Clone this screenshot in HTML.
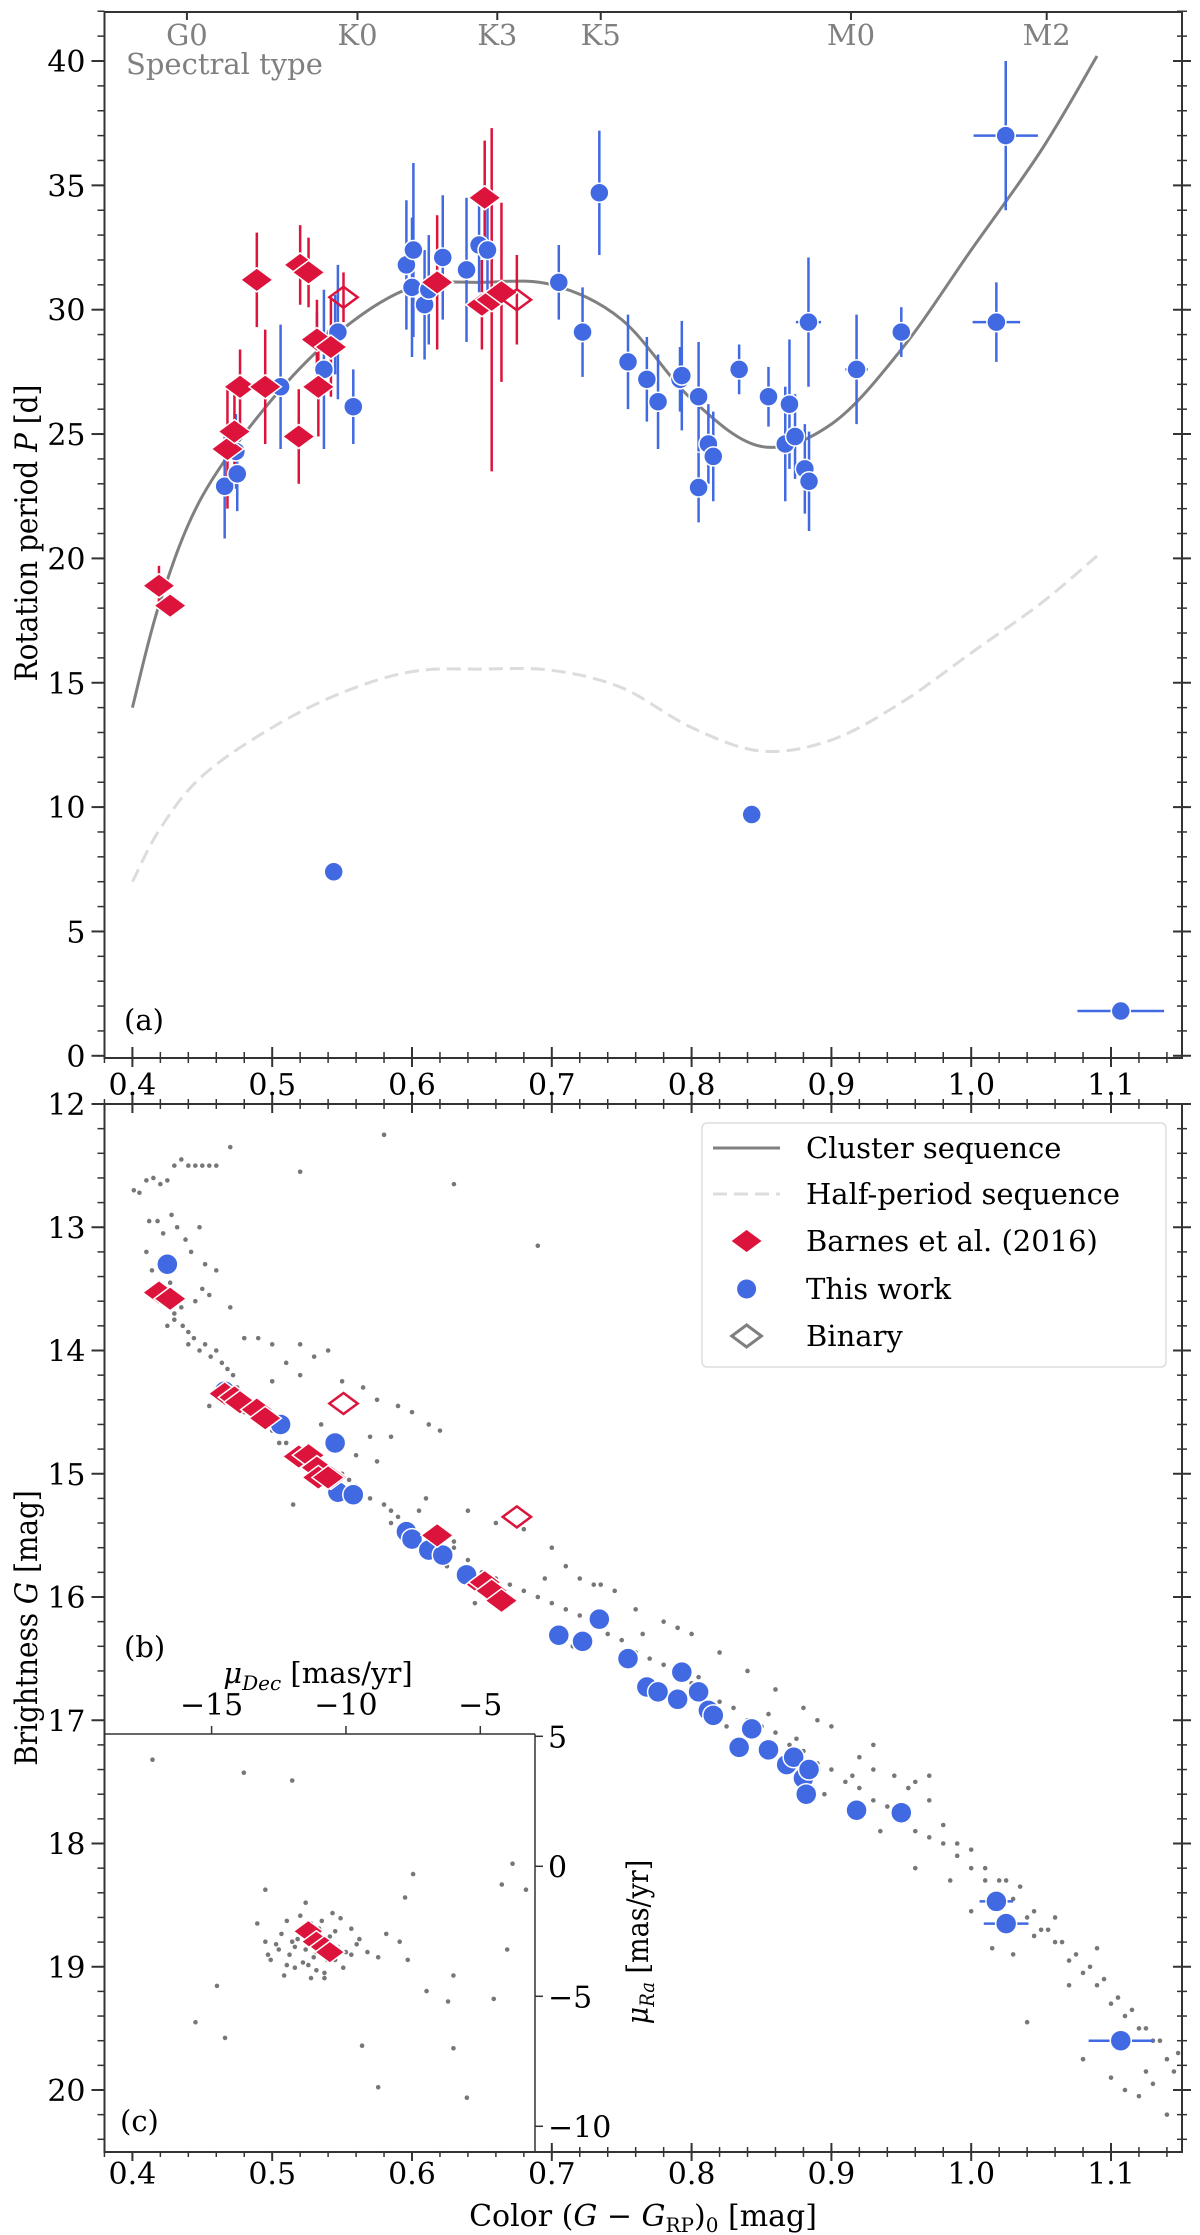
<!DOCTYPE html>
<html><head><meta charset="utf-8">
<style>
html,body{margin:0;padding:0;background:#fff;}
svg{display:block;font-family:"DejaVu Serif","Liberation Serif",serif;}
.tk{font-size:30px;fill:#000;}
</style></head>
<body>
<svg id="fig" width="1200" height="2235" viewBox="0 0 1200 2235" xmlns="http://www.w3.org/2000/svg">
<g id="gA"></g>
<g id="gB"></g>
<g id="gC"></g>
</svg>
<script>
// ---------- Panel (a) data ----------
const curveC = [0.40,0.42,0.45,0.50,0.55,0.60,0.65,0.70,0.75,0.80,0.85,0.90,0.95,1.00,1.05,1.09];
const curveP = [14.0,18.3,22.5,26.4,29.2,30.9,31.1,31.0,29.6,26.4,24.5,25.4,28.4,32.4,36.4,40.2];
const barnesC = [0.419,0.427,0.468,0.473,0.477,0.489,0.495,0.519,0.520,0.526,0.532,0.533,0.542,0.618,0.650,0.652,0.657,0.664];
const barnesP = [18.9,18.1,24.4,25.1,26.9,31.2,26.9,24.9,31.8,31.5,28.8,26.9,28.5,31.1,30.2,34.5,30.4,30.7];
const barnesErr = [0.8,0.5,2.4,1.8,1.5,1.9,2.3,1.9,1.6,1.4,1.6,2.0,2.0,2.7,1.8,2.3,6.9,3.6];
const binaryC = [0.551,0.675];
const binaryP = [30.5,30.4];
const binaryErr = [1.0,1.8];
const workC = [0.466,0.474,0.475,0.506,0.532,0.537,0.545,0.547,0.558,0.596,0.600,0.601,0.609,0.612,0.622,0.639,0.648,0.654,0.705,0.722,0.734,0.7545,0.768,0.776,0.7917,0.793,0.805,0.805,0.812,0.8155,0.834,0.855,0.867,0.870,0.874,0.881,0.884,0.8836,0.918,0.950,1.018,1.0247,0.544,0.843,1.107];
const workP = [22.9,24.3,23.4,26.9,28.8,27.6,29.0,29.1,26.1,31.8,30.9,32.4,30.2,30.8,32.1,31.6,32.6,32.4,31.1,29.1,34.7,27.9,27.2,26.3,27.2,27.35,26.5,22.85,24.6,24.1,27.6,26.5,24.6,26.2,24.9,23.6,23.1,29.5,27.6,29.1,29.5,37.0,7.4,9.7,1.8];
const workErr = [2.1,1.5,1.5,2.5,1.1,3.2,1.6,2.7,1.5,2.6,2.8,3.5,2.2,2.2,2.5,2.9,1.9,2.2,1.5,1.8,2.5,1.9,1.7,1.9,1.3,2.2,2.2,1.4,1.6,1.8,1.0,1.2,2.3,2.6,1.7,1.8,2.0,2.6,2.2,1.0,1.6,3.0,0,0,0];
const workXErr = [0,0,0,0,0,0,0,0,0,0,0,0,0,0,0,0,0,0,0,0,0,0,0,0,0,0,0,0,0,0,0,0,0,0,0,0,0,0.009,0.008,0,0.017,0.023,0,0,0.031];
const spectralLabels = ["G0","K0","K3","K5","M0","M2"];
const spectralC = [0.439,0.561,0.661,0.735,0.914,1.054];
const xTicks = [0.4,0.5,0.6,0.7,0.8,0.9,1.0,1.1];
const xTickLabels = ["0.4","0.5","0.6","0.7","0.8","0.9","1.0","1.1"];
const pTicks = [0,5,10,15,20,25,30,35,40];

// ---------- Panel (b) data ----------
const bBarnesG = [13.53,13.58,14.35,14.38,14.42,14.48,14.55,14.86,14.85,14.95,15.03,15.03,15.03,15.50,15.90,15.88,15.95,16.03];
const bBarnesC = [0.419,0.427,0.466,0.473,0.477,0.489,0.495,0.519,0.526,0.532,0.533,0.542,0.540,0.618,0.650,0.652,0.657,0.664];
const bBinaryC = [0.551,0.675];
const bBinaryG = [14.43,15.35];
const bWorkC = [0.425,0.466,0.506,0.545,0.547,0.558,0.596,0.600,0.612,0.622,0.639,0.705,0.722,0.734,0.7545,0.768,0.776,0.790,0.793,0.805,0.812,0.8155,0.834,0.843,0.855,0.868,0.873,0.880,0.882,0.884,0.918,0.950,1.018,1.025,1.107];
const bWorkG = [13.30,14.33,14.60,14.75,15.15,15.17,15.47,15.53,15.62,15.66,15.82,16.31,16.36,16.18,16.50,16.73,16.77,16.83,16.61,16.77,16.92,16.96,17.22,17.07,17.24,17.36,17.30,17.47,17.60,17.40,17.73,17.75,18.47,18.65,19.60];
const bWorkXErr = [0,0,0,0,0,0,0,0,0,0,0,0,0,0,0,0,0,0,0,0,0,0,0,0,0,0,0,0,0,0.008,0,0,0.012,0.016,0.023];
const gTicks = [12,13,14,15,16,17,18,19,20];
const fieldC = [0.401,0.405,0.41,0.412,0.415,0.418,0.42,0.422,0.425,0.428,0.43,0.432,0.435,0.438,0.44,0.442,0.445,0.448,0.45,0.452,0.455,0.46,0.41,0.414,0.418,0.421,0.424,0.427,0.43,0.433,0.436,0.44,0.444,0.448,0.452,0.456,0.46,0.464,0.468,0.472,0.425,0.43,0.435,0.44,0.445,0.45,0.455,0.46,0.47,0.48,0.49,0.5,0.51,0.52,0.53,0.55,0.565,0.575,0.59,0.6,0.612,0.62,0.46,0.47,0.48,0.488,0.495,0.5,0.51,0.52,0.53,0.54,0.55,0.56,0.57,0.58,0.585,0.59,0.6,0.61,0.62,0.63,0.64,0.65,0.66,0.67,0.68,0.69,0.7,0.71,0.72,0.73,0.74,0.75,0.76,0.77,0.78,0.79,0.8,0.81,0.82,0.83,0.84,0.85,0.86,0.87,0.88,0.89,0.9,0.91,0.92,0.93,0.94,0.95,0.96,0.97,0.98,0.99,1.0,1.01,1.02,1.03,1.04,1.05,1.06,1.07,1.08,1.09,1.1,1.11,1.12,1.13,1.14,1.145,0.56,0.575,0.585,0.61,0.64,0.66,0.68,0.7,0.71,0.72,0.735,0.745,0.76,0.78,0.79,0.8,0.82,0.84,0.86,0.89,0.9,0.92,0.93,0.945,0.96,0.97,0.98,0.99,1.0,1.01,1.02,1.035,1.045,1.055,1.065,1.075,1.085,1.095,1.105,1.115,1.125,1.135,1.148,0.5,0.52,0.54,0.57,0.63,0.67,0.73,0.88,0.93,0.97,1.03,1.06,1.1,1.12,1.14,0.96,1.0,1.04,1.08,1.11,1.13,0.455,0.475,0.505,0.535,0.515,0.555,0.585,0.605,0.625,0.645,0.695,0.715,0.765,0.805,0.825,0.855,0.875,0.895,0.915,0.935,0.955,0.985,1.015,1.025,1.045,1.07,1.09,1.125,0.47,0.52,0.58,0.63,0.69];
const fieldG = [12.7,12.72,12.62,12.95,12.6,12.95,12.65,13.05,12.62,12.9,12.5,13.0,12.45,13.1,12.5,13.2,12.5,13.0,12.5,13.3,12.5,12.5,13.2,13.35,13.5,13.3,13.6,13.45,13.7,13.55,13.8,13.95,13.9,14.0,13.95,14.05,14.0,14.1,14.15,14.2,13.8,13.75,13.65,13.85,13.6,13.5,13.55,13.35,13.65,13.9,13.9,13.95,14.1,13.95,14.05,14.25,14.3,14.4,14.45,14.5,14.6,14.65,14.3,14.4,14.5,14.55,14.6,14.65,14.75,14.8,14.9,14.95,15.0,15.1,15.2,15.25,15.3,15.35,15.45,15.5,15.55,15.6,15.7,15.8,15.85,15.9,15.95,16.0,16.05,16.1,16.15,16.2,16.3,16.35,16.45,16.5,16.55,16.6,16.7,16.8,16.85,16.9,17.0,17.05,17.1,17.2,17.25,17.35,17.4,17.5,17.55,17.65,17.7,17.8,17.9,17.95,18.0,18.1,18.2,18.3,18.4,18.45,18.6,18.7,18.8,18.95,19.05,19.15,19.3,19.4,19.5,19.6,19.75,19.85,14.85,14.9,14.7,15.2,15.3,15.4,15.45,15.6,15.75,15.85,15.9,15.95,16.1,16.2,16.25,16.3,16.45,16.6,16.75,17.0,17.05,17.3,17.4,17.45,17.5,17.65,17.85,18.0,18.05,18.2,18.3,18.35,18.55,18.7,18.8,18.9,19.0,19.1,19.25,19.35,19.5,19.6,19.7,14.25,14.2,14.0,14.7,15.55,15.35,15.9,16.9,17.2,17.45,18.9,18.6,19.9,20.05,20.2,18.2,18.55,19.45,19.75,20.0,19.95,14.45,14.3,14.75,14.6,15.25,15.05,15.4,15.3,15.75,16.05,15.85,16.4,16.3,16.65,17.05,16.95,17.15,17.6,17.45,17.9,17.55,18.3,18.85,18.3,18.75,19.15,18.85,19.85,12.35,12.55,12.25,12.65,13.15];

// ---------- Panel (c) data ----------
const muTicksX = [-15,-10,-5];
const muTicksY = [5,0,-5,-10];
const incDec = [-11.8,-11.5,-11.2,-10.9,-10.6,-12.1,-12.4,-11.0,-10.7,-11.6,-12.0,-10.3,-10.0,-11.3,-11.9,-12.6,-10.4,-9.8,-11.1,-11.4,-12.2,-10.8,-9.5,-13.0,-12.8,-9.2,-10.2,-11.7,-12.3,-10.5,-8.8,-13.3,-8.5,-14.8,-17.2,-13.0,-11.5,-8.0,-7.7,-6.0,-4.0,-3.8,-4.2,-7.5,-9.8,-12.0,-13.8,-6.2,-4.5,-3.3,-15.6,-14.5,-5.5,-6.0,-8.8,-10.8,-9.4,-7.8,-7.0,-11.9,-11.4,-10.9,-12.5,-10.1,-11.6,-12.2,-10.6,-11.1,-9.6,-12.9,-11.3,-10.4];
const incRa = [-2.8,-3.2,-3.5,-3.0,-2.7,-3.4,-2.6,-2.4,-3.6,-3.7,-2.9,-3.1,-3.3,-2.2,-3.9,-3.0,-2.5,-3.4,-4.0,-2.3,-2.1,-4.1,-2.8,-2.9,-3.6,-3.3,-2.0,-1.9,-4.2,-1.8,-3.5,-2.2,-2.6,-4.6,4.1,-0.9,-1.4,-2.9,-3.6,-4.2,-3.2,0.1,-0.7,-0.3,-2.4,3.3,3.6,-5.2,-5.1,-0.9,-6.0,-6.6,-8.9,-7.0,-8.5,-4.3,-6.9,-1.2,-4.8,-3.1,-3.8,-2.1,-3.2,-3.9,-2.3,-3.8,-2.9,-3.3,-3.0,-3.4,-4.3,-3.6];
const incBarnesDec = [-11.4,-11.1,-10.8,-10.6];
const incBarnesRa = [-2.5,-2.9,-3.1,-3.3];
</script>
<script>
const NS="http://www.w3.org/2000/svg";
function mk(parent,tag,attrs,text){const e=document.createElementNS(NS,tag);for(const k in attrs)e.setAttribute(k,attrs[k]);if(text!==undefined)e.textContent=text;parent.appendChild(e);return e;}
const BLUE="#4169e1", RED="#dc143c", GRAY="#808080";
const L=104.5,R=1182;
function xa(c){return 132.4+(c-0.4)*1398;}
function ya(p){return 1055.8-p*24.87;}
function yb(g){return 1104+(g-12)*123.25;}
function xc(m){return 211.6+(m+15)*26.87;}
function yc(m){return 1866.3-m*26;}

function smoothPath(xs,ys){
  let d="M"+xs[0].toFixed(1)+","+ys[0].toFixed(1);
  for(let i=0;i<xs.length-1;i++){
    const x0=xs[Math.max(i-1,0)],y0=ys[Math.max(i-1,0)],x1=xs[i],y1=ys[i],x2=xs[i+1],y2=ys[i+1],x3=xs[Math.min(i+2,xs.length-1)],y3=ys[Math.min(i+2,xs.length-1)];
    d+=" C"+(x1+(x2-x0)/6).toFixed(1)+","+(y1+(y2-y0)/6).toFixed(1)+" "+(x2-(x3-x1)/6).toFixed(1)+","+(y2-(y3-y1)/6).toFixed(1)+" "+x2.toFixed(1)+","+y2.toFixed(1);
  }
  return d;
}
function diamond(g,x,y,s,fill,stroke,sw){
  return mk(g,"polygon",{points:`${x},${y-s} ${x+s*1.35},${y} ${x},${y+s} ${x-s*1.35},${y}`,fill:fill,stroke:stroke,"stroke-width":sw});
}

// ================= Panel A =================
const gA=document.getElementById("gA");
let fr=mk(gA,"rect",{x:L,y:12,width:R-L,height:1046,fill:"none",stroke:"#333","stroke-width":2});


for(let c=0.38;c<=1.151;c+=0.02){const x=xa(c);mk(gA,"line",{x1:x,y1:1052,x2:x,y2:1063,stroke:"#333","stroke-width":1.5});}
xTicks.forEach((c,i)=>{const x=xa(c);mk(gA,"line",{x1:x,y1:1047,x2:x,y2:1067,stroke:"#333","stroke-width":2});
  const t=mk(gA,"text",{x:x,y:1095,"text-anchor":"middle",class:"tk"},xTickLabels[i]);
  
  });
for(let p=0;p<=42;p+=1){const y=ya(p);mk(gA,"line",{x1:L-7,y1:y,x2:L,y2:y,stroke:"#333","stroke-width":1.5});mk(gA,"line",{x1:R-5,y1:y,x2:R+5,y2:y,stroke:"#333","stroke-width":1.5});}
pTicks.forEach(p=>{const y=ya(p);mk(gA,"line",{x1:L-13,y1:y,x2:L,y2:y,stroke:"#333","stroke-width":2});mk(gA,"line",{x1:R-9,y1:y,x2:R+9,y2:y,stroke:"#333","stroke-width":2});
  const t=mk(gA,"text",{x:L-19,y:y+11,"text-anchor":"end",class:"tk"},String(p));
  
  });
spectralLabels.forEach((s,i)=>{const x=xa(spectralC[i]);mk(gA,"line",{x1:x,y1:12,x2:x,y2:20,stroke:"#333","stroke-width":2});
  const t=mk(gA,"text",{x:x,y:45,"text-anchor":"middle",fill:GRAY,"font-size":"29px"},s);
  
  });
let st=mk(gA,"text",{x:126,y:74,fill:GRAY,"font-size":"29px"},"Spectral type");


let yt=mk(gA,"text",{x:0,y:0,"font-size":"31px",transform:"translate(37,533) rotate(-90)","text-anchor":"middle","font-family":"'DejaVu Serif Condensed','Liberation Serif',serif"});
yt.innerHTML='Rotation period <tspan font-style="italic">P</tspan> [d]';


let la=mk(gA,"text",{x:124,y:1030,"font-size":"29px"},"(a)");


const cx=curveC.map(xa);
let cs=mk(gA,"path",{d:smoothPath(cx,curveP.map(ya)),fill:"none",stroke:GRAY,"stroke-width":3});


let hs=mk(gA,"path",{d:smoothPath(cx,curveP.map(p=>ya(p/2))),fill:"none",stroke:"#dcdcdc","stroke-width":3,"stroke-dasharray":"14,7"});


workC.forEach((c,i)=>{const x=xa(c),y=ya(workP[i]);
  if(workErr[i]>0)mk(gA,"line",{x1:x,y1:ya(workP[i]-workErr[i]),x2:x,y2:ya(workP[i]+workErr[i]),stroke:BLUE,"stroke-width":2.5});
  if(workXErr[i]>0)mk(gA,"line",{x1:xa(c-workXErr[i]),y1:y,x2:xa(c+workXErr[i]),y2:y,stroke:BLUE,"stroke-width":2.5});});
barnesC.forEach((c,i)=>{const x=xa(c);mk(gA,"line",{x1:x,y1:ya(barnesP[i]-barnesErr[i]),x2:x,y2:ya(barnesP[i]+barnesErr[i]),stroke:RED,"stroke-width":2.5});});
binaryC.forEach((c,i)=>{const x=xa(c);mk(gA,"line",{x1:x,y1:ya(binaryP[i]-binaryErr[i]),x2:x,y2:ya(binaryP[i]+binaryErr[i]),stroke:RED,"stroke-width":2.5});});
workC.forEach((c,i)=>{const m=mk(gA,"circle",{cx:xa(c),cy:ya(workP[i]),r:9.5,fill:BLUE,stroke:"#fff","stroke-width":1.5});
  
  });
barnesC.forEach((c,i)=>{const m=diamond(gA,xa(c),ya(barnesP[i]),12,RED,"#fff",1.5);
  
  });
binaryC.forEach((c,i)=>{const m=diamond(gA,xa(c),ya(binaryP[i]),10.5,"none",RED,2.5);
  
  });

// ================= Panel B =================
const gB=document.getElementById("gB");
const BT=1104,BB=2152;
let frb=mk(gB,"rect",{x:L,y:BT,width:R-L,height:BB-BT,fill:"none",stroke:"#333","stroke-width":2});


for(let c=0.38;c<=1.151;c+=0.02){const x=xa(c);mk(gB,"line",{x1:x,y1:BT-5,x2:x,y2:BT+5,stroke:"#333","stroke-width":1.5});mk(gB,"line",{x1:x,y1:BB-5,x2:x,y2:BB+5,stroke:"#333","stroke-width":1.5});}
xTicks.forEach((c,i)=>{const x=xa(c);mk(gB,"line",{x1:x,y1:BT-9,x2:x,y2:BT+9,stroke:"#333","stroke-width":2});mk(gB,"line",{x1:x,y1:BB-9,x2:x,y2:BB+9,stroke:"#333","stroke-width":2});
  const t=mk(gB,"text",{x:x,y:2184,"text-anchor":"middle",class:"tk"},xTickLabels[i]);
  
  });
for(let g=12;g<=20.5;g+=0.2){const y=yb(g);mk(gB,"line",{x1:L-7,y1:y,x2:L,y2:y,stroke:"#333","stroke-width":1.5});mk(gB,"line",{x1:R-5,y1:y,x2:R+5,y2:y,stroke:"#333","stroke-width":1.5});}
gTicks.forEach(g=>{const y=yb(g);mk(gB,"line",{x1:L-13,y1:y,x2:L,y2:y,stroke:"#333","stroke-width":2});mk(gB,"line",{x1:R-9,y1:y,x2:R+9,y2:y,stroke:"#333","stroke-width":2});
  const t=mk(gB,"text",{x:L-19,y:y+11,"text-anchor":"end",class:"tk"},String(g));
  
  });
let ybt=mk(gB,"text",{x:0,y:0,"font-size":"31px",transform:"translate(37,1628) rotate(-90)","text-anchor":"middle","font-family":"'DejaVu Serif Condensed','Liberation Serif',serif"});
ybt.innerHTML='Brightness <tspan font-style="italic">G</tspan> [mag]';


let xbt=mk(gB,"text",{x:643,y:2226,"text-anchor":"middle","font-size":"30px"});
xbt.innerHTML='Color (<tspan font-style="italic">G</tspan> − <tspan font-style="italic">G</tspan><tspan font-size="20px" dy="6">RP</tspan><tspan dy="-6">)</tspan><tspan font-size="20px" dy="6">0</tspan><tspan dy="-6"> [mag]</tspan>';


let lb=mk(gB,"text",{x:124,y:1657,"font-size":"29px"},"(b)");


const clipB=mk(gB,"g",{});
fieldC.forEach((c,i)=>{const d=mk(clipB,"circle",{cx:xa(c),cy:yb(fieldG[i]),r:2.3,fill:"#777"});
  
  });
bWorkC.forEach((c,i)=>{if(bWorkXErr[i]>0){const y=yb(bWorkG[i]);mk(gB,"line",{x1:xa(c-bWorkXErr[i]),y1:y,x2:xa(c+bWorkXErr[i]),y2:y,stroke:BLUE,"stroke-width":2.5});}});
bWorkC.forEach((c,i)=>{const m=mk(gB,"circle",{cx:xa(c),cy:yb(bWorkG[i]),r:10.5,fill:BLUE,stroke:"#fff","stroke-width":1.5});
  
  });
bBarnesC.forEach((c,i)=>{const m=diamond(gB,xa(c),yb(bBarnesG[i]),12,RED,"#fff",1.5);
  
  });
bBinaryC.forEach((c,i)=>{const m=diamond(gB,xa(c),yb(bBinaryG[i]),10.5,"#fff",RED,2.5);
  
  });
const lg=mk(gB,"g",{});


mk(lg,"rect",{x:702,y:1123,width:464,height:244,rx:5,fill:"#fff","fill-opacity":0.85,stroke:"#ddd","stroke-width":1.5});
const legY=[1148,1194,1241,1289,1336];
const legT=["Cluster sequence","Half-period sequence","Barnes et al. (2016)","This work","Binary"];
mk(lg,"line",{x1:713,y1:legY[0],x2:780,y2:legY[0],stroke:GRAY,"stroke-width":3});
mk(lg,"line",{x1:713,y1:legY[1],x2:780,y2:legY[1],stroke:"#dcdcdc","stroke-width":3,"stroke-dasharray":"14,7"});
diamond(lg,746.6,legY[2],12,RED,"#fff",1.5);
mk(lg,"circle",{cx:746.6,cy:legY[3],r:9.5,fill:BLUE});
diamond(lg,746.6,legY[4],11,"none",GRAY,3);
legT.forEach((s,i)=>{const t=mk(lg,"text",{x:806,y:legY[i]+10,"font-size":"29px"},s);
  
  });

// ================= Panel C (inset) =================
const gC=document.getElementById("gC");
const CL=L,CR=535,CT=1734,CB=2152;
mk(gC,"rect",{x:CL+1,y:CT,width:CR-CL-1,height:CB-CT-1,fill:"#fff"});
mk(gC,"line",{x1:CL,y1:CT,x2:CR,y2:CT,stroke:"#333","stroke-width":1.5});
mk(gC,"line",{x1:CR,y1:CT,x2:CR,y2:CB,stroke:"#333","stroke-width":1.5});
muTicksX.forEach(m=>{const x=xc(m);mk(gC,"line",{x1:x,y1:CT,x2:x,y2:CT-8,stroke:"#333","stroke-width":1.5});
  const t=mk(gC,"text",{x:x,y:1715,"text-anchor":"middle",class:"tk"},"\u2212"+Math.abs(m));
  
  });
muTicksY.forEach(m=>{const y=yc(m);mk(gC,"line",{x1:CR,y1:y,x2:CR+8,y2:y,stroke:"#333","stroke-width":1.5});
  const t=mk(gC,"text",{x:CR+13,y:y+11,class:"tk"},(m<0?"\u2212":"")+Math.abs(m));
  
  });
let mdt=mk(gC,"text",{x:318,y:1683,"text-anchor":"middle","font-size":"29px"});
mdt.innerHTML='<tspan font-style="italic">μ</tspan><tspan font-style="italic" font-size="20px" dy="7">Dec</tspan><tspan dy="-7"> [mas/yr]</tspan>';


let mrt=mk(gC,"text",{x:0,y:0,"font-size":"30px",transform:"translate(648,1942) rotate(-90)","text-anchor":"middle","font-family":"'DejaVu Serif Condensed','Liberation Serif',serif"});
mrt.innerHTML='<tspan font-style="italic">μ</tspan><tspan font-style="italic" font-size="20px" dy="6">Ra</tspan><tspan dy="-6"> [mas/yr]</tspan>';


incDec.forEach((m,i)=>{const d=mk(gC,"circle",{cx:xc(m),cy:yc(incRa[i]),r:2.3,fill:"#777"});
  
  });
incBarnesDec.forEach((m,i)=>{const d=diamond(gC,xc(m),yc(incBarnesRa[i]),11,RED,"#fff",1.5);
  
  });
let lc=mk(gC,"text",{x:120,y:2131,"font-size":"29px"},"(c)");


</script>
</body></html>
